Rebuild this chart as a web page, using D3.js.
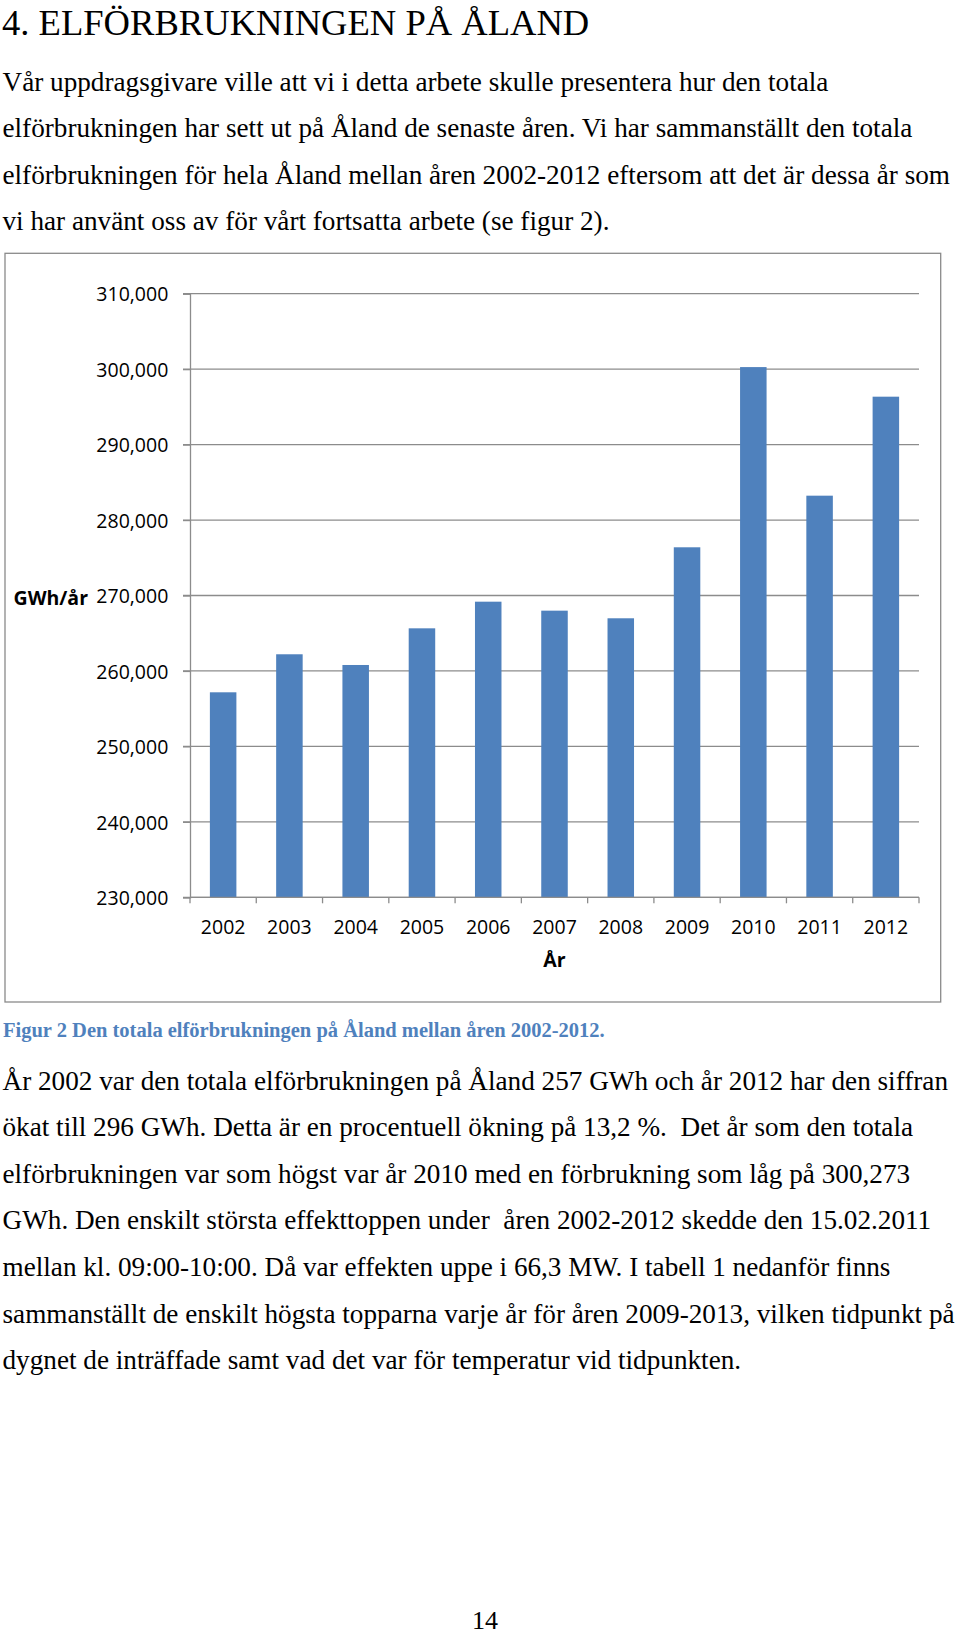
<!DOCTYPE html>
<html><head><meta charset="utf-8">
<script src="https://cdn.jsdelivr.net/npm/d3@7"></script>
<style>
html,body{margin:0;padding:0;background:#fff;}
svg{display:block;}
text{white-space:pre;}
</style></head>
<body>
<script>
// ---- data ----
const years = ["2002","2003","2004","2005","2006","2007","2008","2009","2010","2011","2012"];
const consumption = [257170, 262210, 260790, 265650, 269180, 267990, 266980, 276390, 300273, 283230, 296350];
const yTicks = [230000, 240000, 250000, 260000, 270000, 280000, 290000, 300000, 310000];
const yLabel = "GWh/år";
const xLabel = "År";
const heading = "4. ELFÖRBRUKNINGEN PÅ ÅLAND";
const introLines = [
  "Vår uppdragsgivare ville att vi i detta arbete skulle presentera hur den totala",
  "elförbrukningen har sett ut på Åland de senaste åren. Vi har sammanställt den totala",
  "elförbrukningen för hela Åland mellan åren 2002-2012 eftersom att det är dessa år som",
  "vi har använt oss av för vårt fortsatta arbete (se figur 2)."
];
const caption = "Figur 2 Den totala elförbrukningen på Åland mellan åren 2002-2012.";
const bodyLines = [
  "År 2002 var den totala elförbrukningen på Åland 257 GWh och år 2012 har den siffran",
  "ökat till 296 GWh. Detta är en procentuell ökning på 13,2 %.  Det år som den totala",
  "elförbrukningen var som högst var år 2010 med en förbrukning som låg på 300,273",
  "GWh. Den enskilt största effekttoppen under  åren 2002-2012 skedde den 15.02.2011",
  "mellan kl. 09:00-10:00. Då var effekten uppe i 66,3 MW. I tabell 1 nedanför finns",
  "sammanställt de enskilt högsta topparna varje år för åren 2009-2013, vilken tidpunkt på",
  "dygnet de inträffade samt vad det var för temperatur vid tidpunkten."
];
const pageNumber = "14";

// ---- drawing ----
const W = 960, H = 1635;
const svg = d3.select("body").append("svg").attr("width", W).attr("height", H);
svg.append("rect").attr("width", W).attr("height", H).attr("fill", "#fff");

const serif = "'Liberation Serif','Times New Roman',serif";
const sans = "'Open Sans','Liberation Sans',sans-serif";

svg.append("text").attr("x", 2).attr("y", 35)
  .attr("font-family", serif).attr("font-size", 36.6).attr("fill", "#000")
  .text(heading);

svg.append("g").selectAll("text").data(introLines).join("text")
  .attr("x", 2.5).attr("y", (d, i) => 90.5 + i * 46.5)
  .attr("font-family", serif).attr("font-size", 27.2).attr("fill", "#000")
  .text(d => d);

// chart frame
svg.append("rect").attr("x", 5).attr("y", 253.3).attr("width", 935.7).attr("height", 748.7)
  .attr("fill", "#fff").attr("stroke", "#8a8a8a").attr("stroke-width", 1.3);

const plot = {left: 190, right: 919, top: 293.7, bottom: 897.3};
const x = d3.scaleBand().domain(years).range([plot.left, plot.right]).paddingInner(0.6).paddingOuter(0.3);
const y = d3.scaleLinear().domain([230000, 310000]).range([plot.bottom, plot.top]);
const gridColor = "#8c8c8c";

// gridlines
svg.append("g").selectAll("line").data(yTicks).join("line")
  .attr("x1", plot.left - 7).attr("x2", plot.right)
  .attr("y1", d => y(d)).attr("y2", d => y(d))
  .attr("stroke", gridColor).attr("stroke-width", 1.3);

// y axis
const yAxis = svg.append("g").attr("transform", `translate(${plot.left},0)`)
  .call(d3.axisLeft(y).tickValues(yTicks).tickFormat(d3.format(",")).tickSize(7).tickPadding(15));
yAxis.select(".domain").attr("stroke", gridColor).attr("stroke-width", 1.3);
yAxis.selectAll(".tick line").attr("stroke", gridColor).attr("stroke-width", 1.3);
yAxis.selectAll(".tick text").attr("font-family", sans).attr("font-size", 19.5)
  .attr("fill", "#000").attr("dy", "0.37em").attr("x", -21.7);

// bars
svg.append("g").selectAll("rect").data(years).join("rect")
  .attr("x", d => x(d)).attr("width", x.bandwidth())
  .attr("y", (d, i) => y(consumption[i]))
  .attr("height", (d, i) => y(230000) - y(consumption[i]))
  .attr("fill", "#4f81bd");

// x axis (line + boundary ticks)
const gap = (x.step() - x.bandwidth()) / 2;
const bounds = years.map(d => x(d) - gap).concat([x(years[years.length - 1]) + x.bandwidth() + gap]);
svg.append("line").attr("x1", plot.left).attr("x2", plot.right)
  .attr("y1", y(230000)).attr("y2", y(230000))
  .attr("stroke", gridColor).attr("stroke-width", 1.3);
svg.append("g").selectAll("line").data(bounds).join("line")
  .attr("x1", d => d).attr("x2", d => d)
  .attr("y1", y(230000)).attr("y2", y(230000) + 6)
  .attr("stroke", gridColor).attr("stroke-width", 1.3);
svg.append("g").selectAll("text").data(years).join("text")
  .attr("x", d => x(d) + x.bandwidth() / 2).attr("y", 934)
  .attr("text-anchor", "middle")
  .attr("font-family", sans).attr("font-size", 19.5).attr("fill", "#000")
  .text(d => d);

// axis titles
svg.append("text").attr("x", 88).attr("y", y(270000) + 9.7)
  .attr("text-anchor", "end").attr("font-family", sans).attr("font-size", 19.5)
  .attr("font-weight", "bold").attr("fill", "#000").text(yLabel);
svg.append("text").attr("x", (plot.left + plot.right) / 2).attr("y", 967)
  .attr("text-anchor", "middle").attr("font-family", sans).attr("font-size", 19.5)
  .attr("font-weight", "bold").attr("fill", "#000").text(xLabel);

// caption
svg.append("text").attr("x", 3).attr("y", 1036.7)
  .attr("font-family", serif).attr("font-size", 20.5).attr("font-weight", "bold")
  .attr("fill", "#4f81bd").text(caption);

svg.append("g").selectAll("text").data(bodyLines).join("text")
  .attr("x", 2.5).attr("y", (d, i) => 1089.5 + i * 46.65)
  .attr("font-family", serif).attr("font-size", 27.2).attr("fill", "#000")
  .text(d => d);

svg.append("text").attr("x", 485).attr("y", 1629).attr("text-anchor", "middle")
  .attr("font-family", serif).attr("font-size", 26).attr("fill", "#000")
  .text(pageNumber);
</script>
</body></html>
